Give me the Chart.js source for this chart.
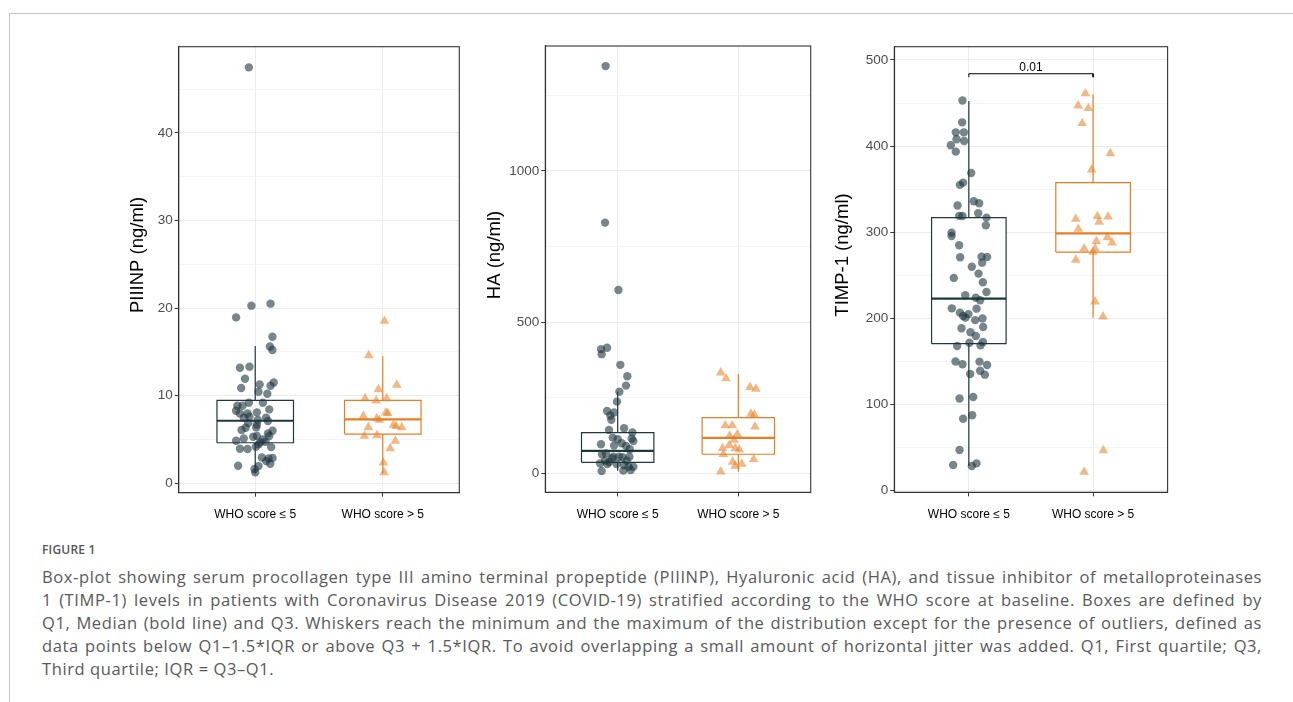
<!DOCTYPE html>
<html>
<head>
<meta charset="utf-8">
<script src="https://cdn.jsdelivr.net/npm/chart.js@4.4.1/dist/chart.umd.min.js"></script>
<style>
  body { margin: 0; background: #fff; width: 1293px; height: 702px; overflow: hidden; position: relative; }
  #frame { position: absolute; left: 9px; top: 13px; width: 1300px; height: 700px; border-top: 1px solid #c4c4c4; border-left: 1px solid #c4c4c4; }
  canvas { position: absolute; }
  #fig { position: absolute; left: 42px; top: 541px; font: 600 12px 'Open Sans', sans-serif; color: #555; letter-spacing: 0.2px; }
  #cap { position: absolute; left: 42px; top: 565px; width: 1220px; font: 16.5px 'Open Sans', sans-serif; letter-spacing: 0.6px; line-height: 23px; color: #595959; }
  #cap div { white-space: nowrap; text-align: justify; text-align-last: justify; }
  #cap div.last { text-align-last: left; }
</style>
</head>
<body>
<div id="frame"></div>
<canvas id="c1" width="370" height="510" style="left:100px;top:30px"></canvas>
<canvas id="c2" width="340" height="510" style="left:480px;top:30px"></canvas>
<canvas id="c3" width="350" height="510" style="left:830px;top:30px"></canvas>
<div id="fig">FIGURE 1</div>
<div id="cap">
  <div>Box-plot showing serum procollagen type III amino terminal propeptide (PIIINP), Hyaluronic acid (HA), and tissue inhibitor of metalloproteinases</div>
  <div>1 (TIMP-1) levels in patients with Coronavirus Disease 2019 (COVID-19) stratified according to the WHO score at baseline. Boxes are defined by</div>
  <div>Q1, Median (bold line) and Q3. Whiskers reach the minimum and the maximum of the distribution except for the presence of outliers, defined as</div>
  <div>data points below Q1–1.5*IQR or above Q3 + 1.5*IQR. To avoid overlapping a small amount of horizontal jitter was added. Q1, First quartile; Q3,</div>
  <div class="last">Third quartile; IQR = Q3–Q1.</div>
</div>
<script>
const categories = ['WHO score ≤ 5', 'WHO score > 5'];

// PIIINP (ng/ml)
const piiinpLowY = [47.5, 20.27, 20.5, 18.93, 16.72, 15.6, 15.2, 13.18, 13.3, 11.92, 11.28, 11.5, 11.12, 10.86, 10.44, 10.2,
  9.18, 9.18, 8.84, 8.84, 8.27, 8.42, 8.08, 7.96, 7.96, 7.47, 7.47, 7.58, 7.2, 7.09, 6.86, 6.7, 6.32, 6.06, 5.98, 6.36,
  5.68, 5.37, 5.3, 5.1, 5.37, 4.84, 4.99, 4.72, 4.65, 4.42, 3.92, 3.89, 4.11, 4.15, 2.93, 2.82, 2.86, 2.51, 2.21, 1.98,
  1.94, 1.6, 1.22];
const piiinpLowJitter = [-0.05, -0.03, 0.12, -0.15, 0.135, 0.115, 0.135, -0.12, -0.045, -0.08, 0.035, 0.145, 0.12, -0.11, 0.025, 0.095,
  0.06, -0.05, -0.14, -0.1, -0.15, 0.11, 0.013, -0.06, -0.12, -0.09, 0.085, -0.045, 0.02, 0.1, -0.055, 0.013, -0.075, -0.107, 0.136, 0.008,
  0.1, 0.013, -0.016, -0.09, 0.11, -0.15, 0.06, 0.081, 0.04, 0.026, -0.12, -0.06, 0.125, 0.005, 0.052, 0.105, 0.136, 0.086, 0.118, -0.134,
  0.026, -0.005, 0];
const piiinpHighY = [18.51, 14.59, 11.2, 10.7, 9.68, 9.41, 9.68, 8.04, 7.96, 7.66, 7.39, 7.2, 6.36, 6.63, 6.36, 6.51, 5.37, 5.45, 4.8, 3.96, 2.32, 1.22];
const piiinpHighJitter = [0.013, -0.11, 0.11, -0.034, -0.139, -0.052, 0.031, 0.024, 0.04, -0.152, -0.047, -0.026, -0.113, 0.084, 0.149, 0.105, -0.144, -0.045, 0.099, 0.058, 0.005, 0.01];
// [lower whisker, Q1, median, Q3, upper whisker]
const piiinpBoxes = [[1.1, 4.61, 7.12, 9.45, 15.66], [1.1, 5.6, 7.28, 9.45, 14.48]];
const piiinpTicks = [0, 5, 10, 15, 20, 25, 30, 35, 40, 45];
const piiinpTickLabels = ['0', '', '10', '', '20', '', '30', '', '40', ''];

// HA (ng/ml)
const haLowY = [1346.6, 829, 606, 410.6, 415, 394, 358.7, 321, 290, 270, 237, 206, 201, 191, 177, 149, 143.5, 134.7, 118, 112.6,
  114.8, 107, 96, 99.3, 91.6, 90.5, 79.5, 63, 66, 55, 55, 53, 55, 42, 37.5, 33, 31, 27.6, 22, 22, 11, 8.8, 7.7, 31, 49.7, 42];
const haLowJitter = [-0.1, -0.105, 0.006, -0.138, -0.088, -0.133, 0.022, 0.08, 0.069, 0.014, -0.006, -0.088, -0.03, -0.061, -0.053, 0.053, -0.072, 0.122, -0.041, 0,
  0.116, 0.13, -0.138, 0.033, -0.03, 0.069, 0.1, -0.13, -0.097, -0.036, 0.011, 0.039, 0.097, -0.105, -0.069, -0.146, -0.008, 0.053, 0.091, 0.13, 0.108, 0.047, -0.133, -0.086, -0.047, 0.075];
const haHighY = [333, 313.5, 284.8, 279, 196.5, 193, 158, 158, 154.5, 129, 123.6, 110, 92.7, 82.8, 78.4, 82.8, 63, 46.4, 37.5, 31, 24.3, 5.5];
const haHighJitter = [-0.146, -0.102, 0.097, 0.146, 0.105, 0.133, -0.108, -0.05, 0.138, -0.008, -0.072, -0.036, -0.075, -0.025, 0.008, -0.13, -0.124, 0.127, -0.047, 0.028, -0.025, -0.146];
const haBoxes = [[8.8, 36.4, 74, 134.7, 270], [5.5, 63, 117, 184, 329]];
const haTicks = [0, 250, 500, 750, 1000, 1250];
const haTickLabels = ['0', '', '500', '', '1000', ''];

// TIMP-1 (ng/ml)
const timpLowY = [453, 427.6, 416, 416, 408, 406, 401, 393.6, 368.8, 355, 357.6, 336, 333.6, 331, 322, 319, 318.9, 317, 308, 299.5,
  295.7, 285, 271.7, 271.3, 271, 264.7, 260, 252, 247, 241.9, 230.6, 226.8, 224, 221, 211.7, 211.3, 206.7, 205, 202.8, 200.9,
  200, 198, 190, 188.5, 184, 179.6, 171.8, 172.6, 168, 168.7, 150, 149.8, 146.7, 145.9, 139.3, 135.4, 134.7, 107, 108.7, 83.6,
  87.5, 47.2, 29.8, 28.6, 31.7];
const timpLowJitter = [-0.051, -0.054, -0.105, -0.04, -0.099, -0.038, -0.145, -0.105, 0.019, -0.072, -0.046, 0.04, 0.083, -0.091, 0.075, -0.078, -0.051, 0.142, 0.137, -0.139,
  -0.139, -0.078, 0.102, 0.147, -0.07, 0.107, 0.024, 0.078, -0.121, 0.113, 0.142, -0.029, 0.056, 0.091, -0.137, 0.062, -0.072, -0.003, -0.046, -0.027,
  0.11, 0.051, 0.115, -0.059, 0.013, 0.056, 0.005, 0.113, -0.094, 0.094, -0.107, 0.086, -0.051, 0.147, 0.091, 0.011, 0.129, -0.075, 0.035, -0.046,
  0.027, -0.075, -0.126, 0.024, 0.062];
const timpHighY = [461, 447, 443.9, 426.5, 391.6, 372.7, 315.4, 318.5, 318, 312, 303.8, 294, 289.5, 288, 281, 281.3, 277, 268, 219.4, 202, 46.8, 21.7];
const timpHighJitter = [-0.062, -0.12, -0.038, -0.088, 0.139, -0.011, -0.139, 0.035, 0.121, 0.048, -0.118, 0.115, 0.027, 0.153, -0.072, 0.016, 0, -0.139, 0.016, 0.08, 0.083, -0.072];
const timpBoxes = [[28.6, 170.7, 223, 317, 452.4], [200.9, 277, 298.8, 357.6, 460]];
const timpTicks = [0, 50, 100, 150, 200, 250, 300, 350, 400, 450, 500];
const timpTickLabels = ['0', '', '100', '', '200', '', '300', '', '400', '', '500'];
const timpBracket = { low: 480, high: 484, label: '0.01' };

const darkLine = 'rgb(31,56,62)';
const darkFill = 'rgba(29,54,61,0.6)';
const orangeLine = 'rgb(230,126,34)';
const orangeFill = 'rgba(230,126,34,0.55)';
const boxHalf = 0.3;

Chart.defaults.font.family = "'Liberation Sans', Arial, sans-serif";
Chart.defaults.animation = false;

function lineSet(data, color, width, order, fill) {
  return {
    type: 'scatter', data, showLine: true, borderColor: color, borderWidth: width,
    pointRadius: 0, fill: fill ? 'shape' : false, backgroundColor: '#fff', order
  };
}

function boxSets(stats, cx, color) {
  const [lo, q1, med, q3, hi] = stats;
  return [
    lineSet([{x: cx - boxHalf, y: q1}, {x: cx + boxHalf, y: q1}, {x: cx + boxHalf, y: q3}, {x: cx - boxHalf, y: q3}, {x: cx - boxHalf, y: q1}], color, 1.2, 3, true),
    lineSet([{x: cx - boxHalf, y: med}, {x: cx + boxHalf, y: med}], color, 2.2, 2),
    lineSet([{x: cx, y: q3}, {x: cx, y: hi}], color, 1.2, 2),
    lineSet([{x: cx, y: lo}, {x: cx, y: q1}], color, 1.2, 2)
  ];
}

function pointSet(ys, jitter, cx, color, style, radius) {
  return {
    type: 'scatter', data: ys.map((y, i) => ({x: cx + jitter[i], y})),
    pointStyle: style, pointRadius: radius, pointBackgroundColor: color, pointBorderWidth: 0, order: 1
  };
}

const panelPlugin = {
  id: 'panel',
  afterDatasetsDraw(chart, args, opts) {
    const {ctx, chartArea: a} = chart;
    ctx.save();
    ctx.strokeStyle = '#333';
    ctx.lineWidth = 1.1;
    ctx.strokeRect(a.left, a.top, a.right - a.left, a.bottom - a.top);
    if (opts.bracket) {
      const b = opts.bracket;
      ctx.fillStyle = '#000';
      ctx.font = "12px 'Liberation Sans', Arial, sans-serif";
      ctx.textAlign = 'center';
      ctx.textBaseline = 'alphabetic';
      ctx.fillText(b.label, chart.scales.x.getPixelForValue(1.5), chart.scales.y.getPixelForValue(b.high) - 2.5);
    }
    ctx.restore();
  },
  afterDraw(chart, args, opts) {
    const ctx = chart.ctx;
    ctx.save();
    ctx.translate(opts.titleX, opts.titleY);
    ctx.rotate(-Math.PI / 2);
    ctx.fillStyle = '#000';
    ctx.font = "18.5px 'Liberation Sans', Arial, sans-serif";
    ctx.textAlign = 'center';
    ctx.textBaseline = 'middle';
    ctx.fillText(opts.title, 0, 0);
    ctx.restore();
  }
};

function makeChart(id, cfg) {
  const datasets = [
    pointSet(cfg.lowY, cfg.lowJitter, 1, darkFill, 'circle', 4.2),
    pointSet(cfg.highY, cfg.highJitter, 2, orangeFill, 'triangle', 5.6),
    ...boxSets(cfg.boxes[0], 1, darkLine),
    ...boxSets(cfg.boxes[1], 2, orangeLine)
  ];
  if (cfg.bracket) {
    datasets.push(lineSet([{x: 1, y: cfg.bracket.low}, {x: 1, y: cfg.bracket.high}, {x: 2, y: cfg.bracket.high}, {x: 2, y: cfg.bracket.low}], '#000', 1, 2));
  }
  return new Chart(document.getElementById(id), {
    type: 'scatter',
    data: { datasets },
    options: {
      responsive: false,
      devicePixelRatio: 1,
      layout: { padding: { top: cfg.padTop, right: cfg.padRight, left: 0, bottom: 0 } },
      plugins: {
        legend: { display: false },
        tooltip: { enabled: false },
        panel: { title: cfg.title, titleX: cfg.titleX, titleY: 225, bracket: cfg.bracket }
      },
      scales: {
        x: {
          type: 'linear', min: 0.4, max: 2.6,
          afterBuildTicks: s => { s.ticks = [{value: 1}, {value: 2}]; },
          afterFit: s => { s.height = cfg.xHeight; },
          ticks: { callback: v => categories[v - 1], color: '#000', font: { size: 12 }, padding: 11, autoSkip: false, maxRotation: 0 },
          grid: { color: '#ebebeb', lineWidth: 1, tickColor: '#333', tickLength: 4 },
          border: { color: '#333', width: 1.1 }
        },
        y: {
          min: cfg.yMin, max: cfg.yMax,
          afterBuildTicks: s => { s.ticks = cfg.ticks.map(v => ({value: v})); },
          afterFit: s => { s.width = cfg.yWidth; },
          ticks: { callback: (v, i) => cfg.tickLabels[i], color: '#4d4d4d', font: { size: 13.5 }, padding: 2, autoSkip: false },
          grid: {
            color: c => cfg.tickLabels[c.index] === '' ? '#f4f4f4' : '#ebebeb',
            lineWidth: 1,
            tickColor: c => cfg.tickLabels[c.index] === '' ? 'rgba(0,0,0,0)' : '#333',
            tickLength: 4
          },
          border: { color: '#333', width: 1.1 }
        }
      }
    },
    plugins: [panelPlugin]
  });
}

makeChart('c1', {
  lowY: piiinpLowY, lowJitter: piiinpLowJitter, highY: piiinpHighY, highJitter: piiinpHighJitter,
  boxes: piiinpBoxes, ticks: piiinpTicks, tickLabels: piiinpTickLabels,
  yMin: -1.1, yMax: 49.86, title: 'PIIINP (ng/ml)', titleX: 38,
  yWidth: 78.7, padTop: 16.7, padRight: 10.7, xHeight: 47.3
});

makeChart('c2', {
  lowY: haLowY, lowJitter: haLowJitter, highY: haHighY, highJitter: haHighJitter,
  boxes: haBoxes, ticks: haTicks, tickLabels: haTickLabels,
  yMin: -62.8, yMax: 1413, title: 'HA (ng/ml)', titleX: 15,
  yWidth: 65.3, padTop: 16, padRight: 9.3, xHeight: 47.7
});

makeChart('c3', {
  lowY: timpLowY, lowJitter: timpLowJitter, highY: timpHighY, highJitter: timpHighJitter,
  boxes: timpBoxes, ticks: timpTicks, tickLabels: timpTickLabels, bracket: timpBracket,
  yMin: -1.86, yMax: 515.4, title: 'TIMP-1 (ng/ml)', titleX: 13,
  yWidth: 64.3, padTop: 16.7, padRight: 12.4, xHeight: 47.7
});
</script>
</body>
</html>
